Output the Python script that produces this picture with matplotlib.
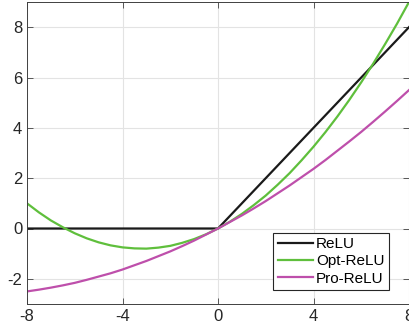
import numpy as np
import matplotlib
matplotlib.use("Agg")
import matplotlib.pyplot as plt

plt.rcParams['font.family'] = ['Liberation Sans', 'DejaVu Sans']
plt.rcParams['axes.unicode_minus'] = False

# ── Data ─────────────────────────────────────────────────────────────────────
x_relu = [-8, 0, 8]
y_relu = [0, 0, 8]

x_curve = [-8, -7.5, -7, -6.5, -6, -5.5, -5, -4.5, -4, -3.5, -3, -2.5, -2, -1.5,
           -1, -0.5, 0, 0.5, 1, 1.5, 2, 2.5, 3, 3.5, 4, 4.5, 5, 5.5, 6, 6.5,
           7, 7.5, 8]
y_opt = [1.0, 0.64, 0.32, 0.05, -0.19, -0.39, -0.55, -0.67, -0.75, -0.79, -0.80,
         -0.76, -0.69, -0.57, -0.42, -0.23, 0.0, 0.27, 0.58, 0.93, 1.31, 1.74,
         2.20, 2.71, 3.25, 3.83, 4.45, 5.11, 5.81, 6.55, 7.33, 8.14, 9.0]
y_pro = [-2.5, -2.43, -2.35, -2.26, -2.16, -2.04, -1.91, -1.78, -1.63, -1.46,
         -1.29, -1.10, -0.91, -0.70, -0.48, -0.24, 0.0, 0.26, 0.52, 0.80, 1.09,
         1.40, 1.71, 2.04, 2.37, 2.72, 3.09, 3.46, 3.84, 4.24, 4.65, 5.07, 5.5]

labels = ['ReLU', 'Opt-ReLU', 'Pro-ReLU']
xticks = [-8, -4, 0, 4, 8]
yticks = [-2, 0, 2, 4, 6, 8]

# ── Plot ─────────────────────────────────────────────────────────────────────
fig = plt.figure(figsize=(4.09, 3.33), dpi=100)
ax = fig.add_axes([27/409, 1 - 304/333, 382/409, 302/333])

ax.plot(x_relu, y_relu, color='#1a1a1a', lw=1.6, label=labels[0])
ax.plot(x_curve, y_opt, color='#5fbf3c', lw=1.6, label=labels[1])
ax.plot(x_curve, y_pro, color='#be4fab', lw=1.6, label=labels[2])

ax.set_xlim(-8, 8)
ax.set_ylim(-3, 9)
ax.set_xticks(xticks)
ax.set_yticks(yticks)
ax.grid(True, color='#e3e3e3', lw=0.8)
ax.set_axisbelow(True)
ax.tick_params(direction='in', length=4, width=0.6, colors='#404040',
               labelsize=12, labelcolor='#262626', top=True, right=True)
for s in ax.spines.values():
    s.set_color('#404040')
    s.set_linewidth(0.7)

leg = ax.legend(loc='lower right', bbox_to_anchor=(0.948, 0.046), borderaxespad=0,
                fontsize=11, fancybox=False, framealpha=1, edgecolor='#262626',
                handlelength=2.3, handletextpad=0.2, borderpad=0.3, labelspacing=0.2)
leg.get_frame().set_linewidth(0.8)

plt.savefig("out.png", dpi=100)
